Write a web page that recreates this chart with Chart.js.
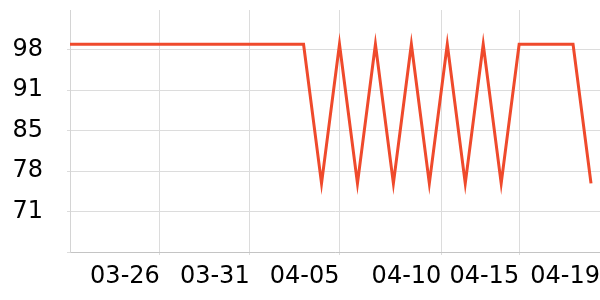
<!DOCTYPE html>
<html><head><meta charset="utf-8">
<script src="https://cdn.jsdelivr.net/npm/chart.js@4/dist/chart.umd.min.js"></script>
<style>html,body{margin:0;padding:0;background:#fff}#wrap{width:600px;height:300px;position:relative}</style>
</head><body><div id="wrap"><canvas id="c"></canvas></div>
<script>
const categories = ['03-21','03-22','03-23','03-24','03-25','03-26','03-27','03-28','03-29','03-30','03-31',
  '04-01','04-02','04-03','04-04','04-05','04-06','04-07','04-08','04-09','04-10','04-11','04-12','04-13',
  '04-14','04-15','04-16','04-17','04-18','04-19'];
const values = [98.6,98.6,98.6,98.6,98.6,98.6,98.6,98.6,98.6,98.6,98.6,
  98.6,98.6,98.6,75.9,98.6,75.9,98.6,75.9,98.6,75.9,98.6,75.9,98.6,
  75.9,98.6,98.6,98.6,98.6,75.9];
const xTickValues = [5,10,15,20.67,25,29.5];
const xTickLabels = ['03-26','03-31','04-05','04-10','04-15','04-19'];
const yTickValues = [64.7,71.3,77.9,84.5,91.1,97.7];
const yTickLabels = ['','71','78','85','91','98'];

const font = {family:'DejaVu Sans', size:24};
new Chart(document.getElementById('c'), {
  type:'line',
  data:{
    datasets:[{
      data: values.map((v,i)=>({x:i,y:v})),
      borderColor:'#ef4a2c',
      borderWidth:3,
      pointRadius:0,
      tension:0,
      fill:false
    }]
  },
  options:{
    responsive:true,
    maintainAspectRatio:false,
    animation:false,
    layout:{padding:{top:10,left:0,right:0,bottom:0}},
    plugins:{legend:{display:false},tooltip:{enabled:false}},
    scales:{
      x:{
        type:'linear', min:0, max:29.5,
        afterBuildTicks:s=>{s.ticks = xTickValues.map(v=>({value:v}));},
        afterFit:s=>{s.height=48; s.paddingLeft=0; s.paddingRight=0;},
        ticks:{autoSkip:false,maxRotation:0,align:'end',font:font,color:'#000',padding:7,
          callback:(v,i)=>xTickLabels[i]},
        grid:{color:'#dcdcdc',tickLength:3},
        border:{color:'#c4c4c4'}
      },
      y:{
        type:'linear', min:64.7, max:104.2,
        afterBuildTicks:s=>{s.ticks = yTickValues.map(v=>({value:v}));},
        afterFit:s=>{s.width=70; s.paddingTop=0; s.paddingBottom=0;},
        ticks:{font:font,color:'#000',padding:24,
          callback:(v,i)=>yTickLabels[i]},
        grid:{color:'#dcdcdc',tickLength:3},
        border:{color:'#d4d4d4'}
      }
    }
  }
});
</script></body></html>
